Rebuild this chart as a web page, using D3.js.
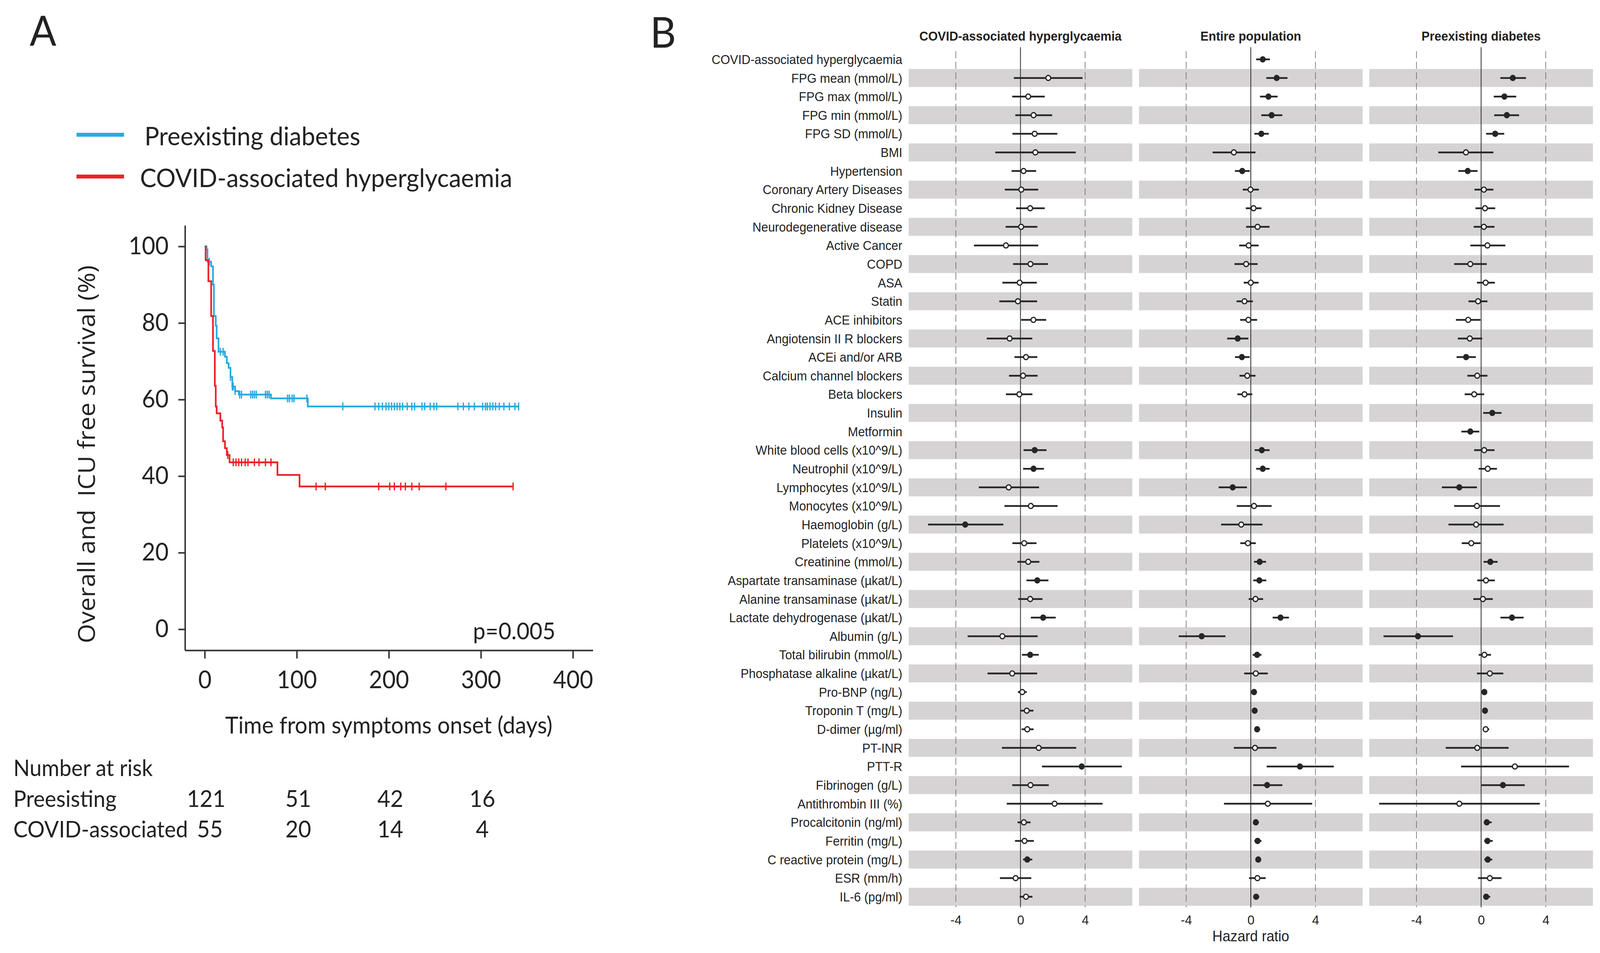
<!DOCTYPE html>
<html>
<head>
<meta charset="utf-8">
<script src="https://cdnjs.cloudflare.com/ajax/libs/d3/7.8.5/d3.min.js"></script>
<style>
  html, body { margin: 0; padding: 0; background: #fff; overflow: hidden; }
  svg { display: block; width: 100vw; height: 100vh; }
</style>
</head>
<body>
<svg viewBox="0 0 4307 2440" preserveAspectRatio="none"></svg>
<script>

// ---- panel A data: Kaplan-Meier steps ----
const timeTicks = [0, 100, 200, 300, 400];
const survTicks = [0, 20, 40, 60, 80, 100];

const preTimes = [0, 2, 3, 7, 9, 10, 12, 13, 15, 22, 24, 26, 28, 30, 33, 37, 72, 112];
const preSurv = [100, 99.2, 96.0, 94.8, 90.0, 81.8, 79.3, 76.0, 72.5, 71.2, 69.5, 68.3, 65.9, 63.4, 62.2, 61.3, 60.3, 58.2];
const preEnd = 341;
const preCensor = [5, 17, 20, 28, 30, 31, 33, 38, 40, 50, 52, 54, 56, 66, 68, 70, 90, 92, 95, 97, 111, 150,
  185, 189, 193, 197, 200, 203, 206, 209, 212, 215, 220, 225, 228, 236, 239, 245, 249, 252,
  275, 281, 287, 293, 302, 305, 307, 310, 313, 316, 320, 325, 331, 337, 341];

const covTimes = [0, 1, 4, 7, 9, 11, 12, 13, 17, 19, 20, 22, 24, 27, 79, 103];
const covSurv = [100, 96.4, 90.9, 81.8, 72.7, 63.6, 58.2, 56.4, 54.5, 52.7, 49.1, 47.3, 45.5, 43.6, 40.3, 37.3];
const covEnd = 335;
const covCensor = [25, 31, 34, 37, 40, 44, 47, 54, 59, 66, 72, 121, 131, 189, 201, 206, 213, 218, 225, 233, 262, 335];

const riskGroups = ["Preesisting", "COVID-associated"];
const riskTimes = [0, 100, 200, 300];
const riskPre = [121, 51, 42, 16];
const riskCov = [55, 20, 14, 4];

// ---- panel B data: hazard ratios (null = not estimated) ----
const rowLabels = ["COVID-associated hyperglycaemia", "FPG mean (mmol/L)", "FPG max (mmol/L)", "FPG min (mmol/L)",
  "FPG SD (mmol/L)", "BMI", "Hypertension", "Coronary Artery Diseases", "Chronic Kidney Disease",
  "Neurodegenerative disease", "Active Cancer", "COPD", "ASA", "Statin", "ACE inhibitors",
  "Angiotensin II R blockers", "ACEi and/or ARB", "Calcium channel blockers", "Beta blockers", "Insulin",
  "Metformin", "White blood cells (x10^9/L)", "Neutrophil (x10^9/L)", "Lymphocytes (x10^9/L)",
  "Monocytes (x10^9/L)", "Haemoglobin (g/L)", "Platelets (x10^9/L)", "Creatinine (mmol/L)",
  "Aspartate transaminase (µkat/L)", "Alanine transaminase (µkat/L)", "Lactate dehydrogenase (µkat/L)",
  "Albumin (g/L)", "Total bilirubin (mmol/L)", "Phosphatase alkaline (µkat/L)", "Pro-BNP (ng/L)",
  "Troponin T (mg/L)", "D-dimer (µg/ml)", "PT-INR", "PTT-R", "Fibrinogen (g/L)", "Antithrombin III (%)",
  "Procalcitonin (ng/ml)", "Ferritin (mg/L)", "C reactive protein (mg/L)", "ESR (mm/h)", "IL-6 (pg/ml)"];

const panelTitles = ["COVID-associated hyperglycaemia", "Entire population", "Preexisting diabetes"];
const hrTicks = [-4, 0, 4];

const hyperEst = [null, 1.72, 0.48, 0.81, 0.88, 0.92, 0.19, 0.05, 0.60, 0.04, -0.90, 0.62, -0.05, -0.16, 0.80, -0.67,
  0.34, 0.16, -0.07, null, null, 0.88, 0.81, -0.73, 0.64, -3.42, 0.23, 0.48, 1.04, 0.60, 1.40, -1.12, 0.60, -0.51,
  0.11, 0.39, 0.42, 1.13, 3.79, 0.62, 2.11, 0.21, 0.25, 0.42, -0.30, 0.34];
const hyperLo = [null, -0.41, -0.51, -0.32, -0.50, -1.56, -0.55, -0.97, -0.27, -0.92, -2.88, -0.46, -1.12, -1.31, 0.04,
  -2.09, -0.37, -0.71, -0.90, null, null, 0.19, 0.16, -2.58, -0.99, -5.72, -0.50, -0.19, 0.37, -0.14, 0.64, -3.27,
  0.09, -2.04, -0.16, 0.00, 0.07, -1.15, 1.33, -0.51, -0.85, -0.18, -0.34, 0.16, -1.27, -0.05];
const hyperHi = [null, 3.84, 1.50, 1.96, 2.28, 3.42, 0.97, 1.10, 1.50, 1.04, 1.10, 1.70, 1.01, 1.03, 1.59, 0.73, 1.04,
  1.06, 0.74, null, null, 1.61, 1.45, 1.15, 2.30, -1.06, 0.99, 1.17, 1.73, 1.36, 2.18, 1.06, 1.13, 1.03, 0.39, 0.80,
  0.81, 3.45, 6.27, 1.75, 5.08, 0.62, 0.83, 0.73, 0.67, 0.74];
const hyperSig = [0, 0, 0, 0, 0, 0, 0, 0, 0, 0, 0, 0, 0, 0, 0, 0, 0, 0, 0, 0, 0, 1, 1, 0, 0, 1, 0, 0, 1, 0, 1, 0, 1, 0,
  0, 0, 0, 0, 1, 0, 0, 0, 0, 1, 0, 0];

const entireEst = [0.74, 1.60, 1.09, 1.29, 0.65, -1.05, -0.53, -0.02, 0.17, 0.42, -0.13, -0.29, 0.00, -0.39, -0.15,
  -0.81, -0.55, -0.22, -0.39, null, null, 0.68, 0.74, -1.12, 0.20, -0.59, -0.18, 0.55, 0.53, 0.29, 1.84, -3.04, 0.39,
  0.31, 0.20, 0.24, 0.39, 0.26, 3.04, 1.01, 1.05, 0.31, 0.42, 0.46, 0.41, 0.33];
const entireLo = [0.33, 0.96, 0.57, 0.65, 0.22, -2.36, -0.98, -0.50, -0.31, -0.29, -0.72, -1.01, -0.44, -0.88, -0.66,
  -1.46, -0.98, -0.70, -0.83, null, null, 0.24, 0.33, -1.99, -0.87, -1.84, -0.65, 0.20, 0.15, -0.13, 1.35, -4.46, 0.11,
  -0.41, 0.09, 0.13, 0.22, -1.05, 0.98, 0.15, -1.66, 0.15, 0.22, 0.29, -0.11, 0.17];
const entireHi = [1.18, 2.27, 1.66, 1.95, 1.11, 0.29, -0.06, 0.50, 0.66, 1.16, 0.48, 0.42, 0.48, 0.13, 0.39, -0.15,
  -0.07, 0.29, 0.09, null, null, 1.16, 1.16, -0.24, 1.29, 0.72, 0.31, 0.94, 0.96, 0.76, 2.36, -1.57, 0.66, 1.05, 0.33,
  0.37, 0.57, 1.59, 5.14, 1.95, 3.80, 0.50, 0.66, 0.63, 0.92, 0.52];
const entireSig = [1, 1, 1, 1, 1, 0, 1, 0, 0, 0, 0, 0, 0, 0, 0, 1, 1, 0, 0, 0, 0, 1, 1, 1, 0, 0, 0, 1, 1, 0, 1, 1, 1, 0,
  1, 1, 1, 0, 1, 1, 0, 1, 1, 1, 0, 1];

const diabEst = [null, 1.96, 1.44, 1.59, 0.87, -0.94, -0.83, 0.17, 0.24, 0.17, 0.39, -0.67, 0.28, -0.19, -0.80, -0.70,
  -0.93, -0.24, -0.43, 0.69, -0.67, 0.19, 0.41, -1.35, -0.26, -0.31, -0.61, 0.57, 0.30, 0.11, 1.91, -3.91, 0.20, 0.54,
  0.20, 0.24, 0.28, -0.24, 2.09, 1.35, -1.35, 0.35, 0.39, 0.41, 0.54, 0.31];
const diabLo = [null, 1.19, 0.78, 0.81, 0.31, -2.65, -1.41, -0.41, -0.35, -0.46, -0.67, -1.67, -0.26, -0.78, -1.56,
  -1.44, -1.52, -0.85, -1.02, 0.13, -1.22, -0.43, -0.15, -2.43, -1.67, -2.02, -1.20, 0.15, -0.24, -0.48, 1.20, -6.04,
  -0.15, -0.26, 0.09, 0.11, 0.09, -2.19, -1.24, 0.02, -6.31, 0.17, 0.19, 0.20, -0.19, 0.15];
const diabHi = [null, 2.78, 2.17, 2.35, 1.43, 0.76, -0.22, 0.76, 0.87, 0.83, 1.50, 0.35, 0.85, 0.39, -0.04, 0.07, -0.33,
  0.39, 0.19, 1.26, -0.11, 0.83, 0.98, -0.26, 1.17, 1.39, -0.04, 1.02, 0.85, 0.72, 2.63, -1.74, 0.61, 1.37, 0.33, 0.37,
  0.50, 1.70, 5.44, 2.70, 3.63, 0.65, 0.72, 0.69, 1.26, 0.56];
const diabSig = [0, 1, 1, 1, 1, 0, 1, 0, 0, 0, 0, 0, 0, 0, 0, 0, 1, 0, 0, 1, 1, 0, 0, 1, 0, 0, 0, 1, 0, 0, 1, 1, 0, 0,
  1, 1, 0, 0, 0, 1, 0, 1, 1, 1, 0, 1];

const svg = d3.select("svg");
const ink = "#222";
const kmFont = "Lato, 'Open Sans', sans-serif";
const fpFont = "'Liberation Sans', Arial, sans-serif";

// panel letters
svg.append("text").attr("x", 80).attr("y", 117).style("font-family", kmFont).style("font-size", "106px")
  .attr("fill", ink).text("A");
svg.append("text").attr("x", 1750).attr("y", 122).style("font-family", kmFont).style("font-size", "108px")
  .attr("fill", ink).text("B");

// ================= panel A =================
const xKm = d3.scaleLinear().domain([-21.4, 421.7]).range([498, 1596]);
const yKm = d3.scaleLinear().domain([-5.5, 105.5]).range([1665, 577]);

const ax = svg.append("g");

const gx = ax.append("g").attr("transform", "translate(0,1665)")
  .call(d3.axisBottom(xKm).tickValues(timeTicks).tickSize(21).tickPadding(32).tickSizeOuter(0));
const gy = ax.append("g").attr("transform", "translate(498,0)")
  .call(d3.axisLeft(yKm).tickValues(survTicks).tickSize(18).tickPadding(26).tickSizeOuter(0));

[gx, gy].forEach(function (g) {
  g.select(".domain").attr("stroke", "#333").attr("stroke-width", 4);
  g.selectAll(".tick line").attr("stroke", "#333").attr("stroke-width", 4);
  g.selectAll(".tick text").style("font-family", kmFont).style("font-size", "62px").attr("fill", ink);
});

// axis titles
svg.append("text")
  .attr("x", xKm(200)).attr("y", 1878)
  .attr("text-anchor", "middle")
  .style("font-family", kmFont).style("font-size", "60px").attr("fill", ink)
  .text("Time from symptoms onset (days)");

svg.append("text")
  .attr("text-anchor", "middle")
  .attr("transform", "translate(256,1163)rotate(-90)")
  .style("font-family", "'Open Sans', sans-serif").style("font-size", "64px").attr("fill", ink)
  .style("white-space", "pre")
  .text("Overall and  ICU free survival (%)");

// legend
const legend = [
  { name: "Preexisting diabetes", color: "#29a9e0", y: 345, tx: 389 },
  { name: "COVID-associated hyperglycaemia", color: "#ec2127", y: 452, tx: 377 }
];
legend.forEach(function (d) {
  svg.append("line").attr("x1", 206).attr("x2", 334).attr("y1", d.y).attr("y2", d.y)
    .attr("stroke", d.color).attr("stroke-width", 10);
  svg.append("text").attr("x", d.tx).attr("y", d.y + 27)
    .style("font-family", kmFont).style("font-size", "66px").attr("fill", ink).text(d.name);
});

// survival curves
function drawKm(times, surv, endT, censor, color) {
  const pts = times.map(function (t, i) { return [t, surv[i]]; });
  pts.push([endT, surv[surv.length - 1]]);
  const line = d3.line().x(d => xKm(d[0])).y(d => yKm(d[1])).curve(d3.curveStepAfter);
  svg.append("path").datum(pts).attr("d", line)
    .attr("fill", "none").attr("stroke", color).attr("stroke-width", 4.5);

  // survival at a given time for the censor ticks
  function survAt(t) {
    let s = surv[0];
    times.forEach(function (tt, i) { if (tt <= t) s = surv[i]; });
    return s;
  }
  svg.append("g").selectAll("line").data(censor).enter().append("line")
    .attr("x1", d => xKm(d)).attr("x2", d => xKm(d))
    .attr("y1", d => yKm(survAt(d)) - 10).attr("y2", d => yKm(survAt(d)) + 10)
    .attr("stroke", color).attr("stroke-width", 3.5);
}
drawKm(preTimes, preSurv, preEnd, preCensor, "#29a9e0");
drawKm(covTimes, covSurv, covEnd, covCensor, "#ec2127");

svg.append("text").attr("x", 1495).attr("y", 1637).attr("text-anchor", "end")
  .style("font-family", kmFont).style("font-size", "60px").attr("fill", ink).text("p=0.005");

// number at risk
svg.append("text").attr("x", 36).attr("y", 1987)
  .style("font-family", kmFont).style("font-size", "58px").attr("fill", ink).text("Number at risk");

[riskPre, riskCov].forEach(function (vals, r) {
  const y = 2066 + r * 78;
  svg.append("text").attr("x", 36).attr("y", y)
    .style("font-family", kmFont).style("font-size", "58px").attr("fill", ink).text(riskGroups[r]);
  svg.append("g").selectAll("text").data(vals).enter().append("text")
    .attr("x", (d, i) => xKm(riskTimes[i]) + (r === 1 && i === 0 ? 14 : 4))
    .attr("y", y)
    .attr("text-anchor", "middle")
    .style("font-family", kmFont).style("font-size", "60px").attr("fill", ink)
    .text(d => d);
});

// ================= panel B =================
const rowY = d3.scaleLinear().domain([0, rowLabels.length - 1]).range([152, 2296]);
const bandH = 46;
const panelW = 602;
const panelLeft = [2446, 3066, 3686];

const panels = [
  { est: hyperEst, lo: hyperLo, hi: hyperHi, sig: hyperSig },
  { est: entireEst, lo: entireLo, hi: entireHi, sig: entireSig },
  { est: diabEst, lo: diabLo, hi: diabHi, sig: diabSig }
];

// row labels
svg.append("g").selectAll("text").data(rowLabels).enter().append("text")
  .attr("x", 2429).attr("y", (d, i) => rowY(i)).attr("dy", "0.36em")
  .attr("text-anchor", "end")
  .style("font-family", fpFont).style("font-size", "33px").attr("fill", ink)
  .text(d => d);

panels.forEach(function (p, k) {
  const L = panelLeft[k];
  const x = d3.scaleLinear().domain([-6.92, 6.92]).range([L, L + panelW]);
  const g = svg.append("g");

  // grey bands on every second row
  g.selectAll("rect").data(rowLabels.map((d, i) => i).filter(i => i % 2 === 1)).enter().append("rect")
    .attr("x", L).attr("width", panelW)
    .attr("y", i => rowY(i) - bandH / 2).attr("height", bandH)
    .attr("fill", "#d5d3d3");

  // reference lines
  g.selectAll(".dash").data([-4, 4]).enter().append("line")
    .attr("x1", d => x(d)).attr("x2", d => x(d)).attr("y1", 131).attr("y2", 2323)
    .attr("stroke", "#666").attr("stroke-width", 1.6).attr("stroke-dasharray", "18,9");
  g.append("line").attr("x1", x(0)).attr("x2", x(0)).attr("y1", 121).attr("y2", 2323)
    .attr("stroke", "#333").attr("stroke-width", 2.2);

  // title
  g.append("text").attr("x", x(0)).attr("y", 104).attr("text-anchor", "middle")
    .style("font-family", fpFont).style("font-size", "33px").style("font-weight", "bold").attr("fill", ink)
    .text(panelTitles[k]);

  // axis
  const gA = g.append("g").attr("transform", "translate(0,2343)")
    .call(d3.axisBottom(x).tickValues(hrTicks).tickSize(0).tickPadding(0).tickFormat(d => String(d)));
  gA.select(".domain").remove();
  gA.selectAll("text").style("font-family", fpFont).style("font-size", "34px").attr("fill", ink);

  const rows = p.est.map((e, i) => ({ i: i, e: e, lo: p.lo[i], hi: p.hi[i], s: p.sig[i] })).filter(d => d.e !== null);

  g.selectAll(".ci").data(rows).enter().append("line")
    .attr("x1", d => x(d.lo)).attr("x2", d => x(d.hi))
    .attr("y1", d => rowY(d.i)).attr("y2", d => rowY(d.i))
    .attr("stroke", "#262626").attr("stroke-width", 4.5);

  g.selectAll("circle").data(rows).enter().append("circle")
    .attr("cx", d => x(d.e)).attr("cy", d => rowY(d.i)).attr("r", 6.5)
    .attr("fill", d => d.s ? "#262626" : "#fff")
    .attr("stroke", "#262626").attr("stroke-width", 3.2);
});

svg.append("text").attr("x", 3367).attr("y", 2410).attr("text-anchor", "middle")
  .style("font-family", fpFont).style("font-size", "38px").attr("fill", ink).text("Hazard ratio");

</script>
</body>
</html>
